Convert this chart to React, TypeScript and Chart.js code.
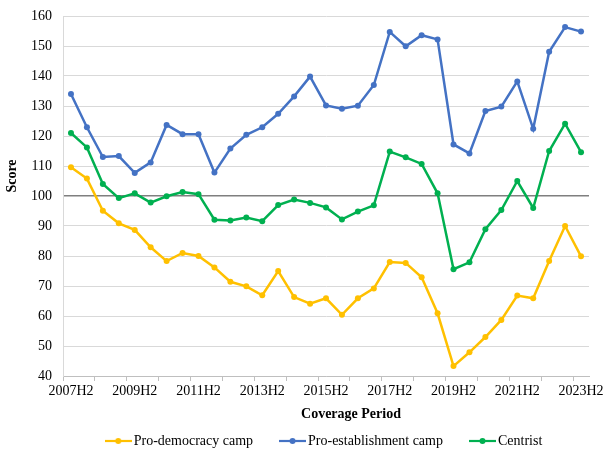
import React, { useEffect, useRef } from "react";
import { Chart, registerables } from "chart.js";

Chart.register(...registerables);

const periods = [
  "2007H2", "2008H1", "2008H2", "2009H1", "2009H2", "2010H1", "2010H2", "2011H1",
  "2011H2", "2012H1", "2012H2", "2013H1", "2013H2", "2014H1", "2014H2", "2015H1",
  "2015H2", "2016H1", "2016H2", "2017H1", "2017H2", "2018H1", "2018H2", "2019H1",
  "2019H2", "2020H1", "2020H2", "2021H1", "2021H2", "2022H1", "2022H2", "2023H1",
  "2023H2",
];

const proDemocracy = [
  109.6, 105.8, 95.1, 90.9, 88.7, 82.9, 78.3, 81.0, 80.0, 76.2, 71.4, 69.9, 66.9,
  75.0, 66.3, 64.1, 65.9, 60.4, 65.9, 69.2, 78.0, 77.7, 72.9, 60.9, 43.3, 47.9,
  53.0, 58.7, 66.8, 65.9, 78.3, 90.0, 79.9,
];

const proEstablishment = [
  134.0, 122.9, 113.0, 113.3, 107.7, 111.2, 123.7, 120.6, 120.6, 107.8, 115.8,
  120.4, 122.9, 127.4, 133.2, 139.8, 130.2, 129.1, 130.1, 137.0, 154.7, 149.9,
  153.6, 152.2, 117.2, 114.2, 128.3, 129.8, 138.2, 122.4, 148.1, 156.3, 154.8,
];

const centrist = [
  121.0, 116.2, 104.0, 99.3, 100.9, 97.8, 99.9, 101.3, 100.6, 92.1, 91.8, 92.8,
  91.6, 97.0, 98.8, 97.7, 96.2, 92.2, 94.8, 96.9, 114.8, 112.9, 110.7, 100.9,
  75.6, 77.9, 88.9, 95.3, 105.0, 96.0, 115.0, 124.1, 114.6,
];

const seriesNames = ["Pro-democracy camp", "Pro-establishment camp", "Centrist"];
const seriesColors = ["#FFC000", "#4472C4", "#00B050"];
const yTitle = "Score";
const xTitle = "Coverage Period";

const FONT = "'Liberation Serif', 'Times New Roman', serif";

function legendMarker(color: string): HTMLCanvasElement {
  const c = document.createElement("canvas");
  c.width = 27;
  c.height = 10;
  const g = c.getContext("2d")!;
  g.strokeStyle = color;
  g.lineWidth = 2.2;
  g.beginPath();
  g.moveTo(0, 5);
  g.lineTo(27, 5);
  g.stroke();
  g.fillStyle = color;
  g.beginPath();
  g.arc(13.5, 5, 3, 0, Math.PI * 2);
  g.fill();
  return c;
}

const axisTitlesPlugin = {
  id: "axisTitles",
  afterDraw(chart: any) {
    const ctx = chart.ctx;
    ctx.save();
    ctx.fillStyle = "#000";
    ctx.font = `bold 14px ${FONT}`;
    ctx.textAlign = "center";
    ctx.textBaseline = "middle";
    ctx.fillText(xTitle, 351, 414);
    ctx.translate(12, 176);
    ctx.rotate(-Math.PI / 2);
    ctx.fillText(yTitle, 0, 0);
    ctx.restore();
  },
};

export default function App() {
  const ref = useRef<HTMLCanvasElement>(null);

  useEffect(() => {
    if (!ref.current) return;
    const values = [proDemocracy, proEstablishment, centrist];
    const chart = new Chart(ref.current, {
      type: "line",
      data: {
        labels: periods,
        datasets: values.map((v, i) => ({
          label: seriesNames[i],
          data: v,
          borderColor: seriesColors[i],
          backgroundColor: seriesColors[i],
          pointBackgroundColor: seriesColors[i],
          pointBorderColor: seriesColors[i],
          borderWidth: 2.5,
          pointRadius: 3,
          pointBorderWidth: 0,
          pointStyle: "circle",
          tension: 0,
        })),
      },
      plugins: [axisTitlesPlugin],
      options: {
        animation: false,
        responsive: false,
        maintainAspectRatio: false,
        layout: { padding: { left: 0, right: 15, top: 16, bottom: -4 } },
        plugins: {
          tooltip: { enabled: false },
          legend: {
            position: "bottom",
            fullSize: false,
            labels: {
              usePointStyle: true,
              pointStyleWidth: 17,
              boxHeight: 10,
              padding: 31,
              color: "#000",
              font: { family: FONT, size: 14 },
              generateLabels: (ch: any) =>
                ch.data.datasets.map((ds: any, i: number) => ({
                  text: ds.label,
                  pointStyle: legendMarker(seriesColors[i]),
                  fillStyle: seriesColors[i],
                  strokeStyle: seriesColors[i],
                  lineWidth: 0,
                  hidden: false,
                  datasetIndex: i,
                  fontColor: "#000",
                })),
            },
          },
        },
        scales: {
          x: {
            type: "category",
            offset: true,
            afterFit: (s: any) => {
              s.paddingLeft = 0;
              s.paddingRight = 0;
              s.height = 27;
            },
            grid: {
              offset: true,
              drawOnChartArea: false,
              drawTicks: true,
              tickLength: 5,
              tickColor: (ctx: any) =>
                ctx.index !== undefined && ctx.index % 2 === 0 ? "#bfbfbf" : "rgba(0,0,0,0)",
            },
            border: { display: true, color: "#bfbfbf", width: 1 },
            ticks: {
              autoSkip: false,
              maxRotation: 0,
              minRotation: 0,
              padding: 2,
              color: "#000",
              font: { family: FONT, size: 14 },
              callback: (_v: any, i: number) => (i % 4 === 0 ? periods[i] : ""),
            },
            title: { display: false },
          },
          y: {
            min: 40,
            max: 160,
            afterFit: (s: any) => {
              s.width = 63;
              s.paddingTop = 0;
              s.paddingBottom = 0;
            },
            grid: {
              drawTicks: false,
              color: (ctx: any) => (ctx.tick && ctx.tick.value === 100 ? "#7f7f7f" : "#d9d9d9"),
              lineWidth: (ctx: any) => (ctx.tick && ctx.tick.value === 100 ? 1.5 : 1),
            },
            border: { display: true, color: "#d9d9d9" },
            ticks: {
              stepSize: 10,
              padding: 11,
              color: "#000",
              font: { family: FONT, size: 14 },
            },
            title: { display: false },
          },
        },
      },
    });
    return () => chart.destroy();
  }, []);

  return (
    <div style={{ position: "absolute", left: 0, top: 0, width: 604, height: 454, background: "#fff" }}>
      <canvas ref={ref} width={604} height={454} style={{ width: 604, height: 454 }} />
    </div>
  );
}
